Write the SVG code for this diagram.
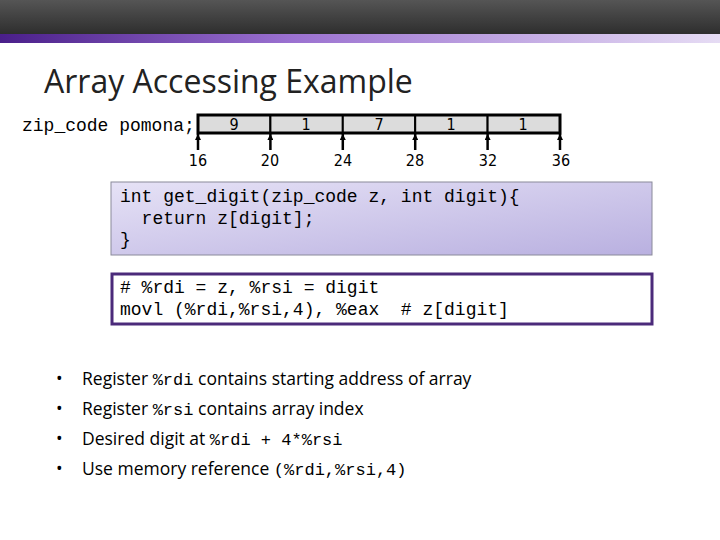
<svg xmlns="http://www.w3.org/2000/svg" width="720" height="540" viewBox="0 0 720 540">
<defs>
<linearGradient id="hdr" x1="0" y1="0" x2="0" y2="1"><stop offset="0" stop-color="#555"/><stop offset="1" stop-color="#2e2e2e"/></linearGradient>
<linearGradient id="strip" x1="0" y1="0" x2="1" y2="0"><stop offset="0" stop-color="#4a1f8a"/><stop offset="0.4" stop-color="#9a70d0"/><stop offset="1" stop-color="#e6dcf4"/></linearGradient>
<linearGradient id="code" x1="0" y1="0" x2="1" y2="1"><stop offset="0" stop-color="#e6e2f6"/><stop offset="1" stop-color="#b9b0e0"/></linearGradient>
<marker id="up" viewBox="0 0 6 6" refX="6" refY="3" markerWidth="6" markerHeight="6" orient="auto" markerUnits="userSpaceOnUse"><path d="M0,0 L6,3 L0,6 Z" fill="#000"/></marker>
<style>
text{white-space:pre}
.mono{font-family:"Liberation Mono",monospace;font-size:18px;fill:#000}
.bm{font-family:"Liberation Mono",monospace;font-size:17px}
.lbl{font-family:"DejaVu Sans Condensed","Liberation Sans",sans-serif;font-size:16px;fill:#000;text-anchor:middle}
.bul{font-family:"Open Sans","Liberation Sans",sans-serif;font-size:17.5px;fill:#000}
.cell{fill:#dcdcdc;stroke:#000;stroke-width:2}
</style>
</defs>
<rect x="0" y="0" width="720" height="34" fill="url(#hdr)"/>
<rect x="0" y="34" width="720" height="9" fill="url(#strip)"/>
<text x="44" y="93" font-family="Open Sans, Liberation Sans, sans-serif" font-size="32" fill="#222">Array Accessing Example</text>
<text class="mono" x="22" y="131" xml:space="preserve">zip_code pomona;</text>
<g id="array">
<rect class="cell" x="198" y="115" width="72.4" height="18"/>
<rect class="cell" x="270.4" y="115" width="72.4" height="18"/>
<rect class="cell" x="342.8" y="115" width="72.4" height="18"/>
<rect class="cell" x="415.2" y="115" width="72.4" height="18"/>
<rect class="cell" x="487.6" y="115" width="72.4" height="18"/>
<rect x="198" y="115" width="362" height="18" fill="none" stroke="#000" stroke-width="3"/>
<g class="lbl"><text x="234" y="130">9</text><text x="306" y="130">1</text><text x="379" y="130">7</text><text x="451" y="130">1</text><text x="523" y="130">1</text></g>
</g>
<g id="connectors" stroke="#000" stroke-width="2.5">
<line x1="198" y1="150" x2="198" y2="134" marker-end="url(#up)"/>
<line x1="270.4" y1="150" x2="270.4" y2="134" marker-end="url(#up)"/>
<line x1="342.8" y1="150" x2="342.8" y2="134" marker-end="url(#up)"/>
<line x1="415.2" y1="150" x2="415.2" y2="134" marker-end="url(#up)"/>
<line x1="487.6" y1="150" x2="487.6" y2="134" marker-end="url(#up)"/>
<line x1="560" y1="150" x2="560" y2="134" marker-end="url(#up)"/>
</g>
<g class="lbl"><text x="198" y="166">16</text><text x="270" y="166">20</text><text x="343" y="166">24</text><text x="415" y="166">28</text><text x="488" y="166">32</text><text x="561" y="166">36</text></g>
<g id="ccode">
<rect x="111" y="182" width="541" height="73" fill="url(#code)" stroke="#8a8a9a" stroke-width="1"/>
<text class="mono" x="120" y="202" xml:space="preserve">int get_digit(zip_code z, int digit){</text>
<text class="mono" x="120" y="224" xml:space="preserve">  return z[digit];</text>
<text class="mono" x="120" y="245">}</text>
</g>
<g id="asm">
<rect x="112" y="274" width="540" height="50" fill="#fff" stroke="#4b2a7a" stroke-width="3"/>
<text class="mono" x="120" y="293" xml:space="preserve"># %rdi = z, %rsi = digit</text>
<text class="mono" x="120" y="315" xml:space="preserve">movl (%rdi,%rsi,4), %eax  # z[digit]</text>
</g>
<g id="bullets">
<text class="bul" x="56" y="385" font-size="12">•</text>
<text class="bul" x="82" y="385" xml:space="preserve">Register <tspan class="bm">%rdi</tspan> contains starting address of array</text>
<text class="bul" x="56" y="415" font-size="12">•</text>
<text class="bul" x="82" y="415" xml:space="preserve">Register <tspan class="bm">%rsi</tspan> contains array index</text>
<text class="bul" x="56" y="445" font-size="12">•</text>
<text class="bul" x="82" y="445" xml:space="preserve">Desired digit at <tspan class="bm">%rdi + 4*%rsi</tspan></text>
<text class="bul" x="56" y="475" font-size="12">•</text>
<text class="bul" x="82" y="475" xml:space="preserve">Use memory reference <tspan class="bm">(%rdi,%rsi,4)</tspan></text>
</g>
</svg>
